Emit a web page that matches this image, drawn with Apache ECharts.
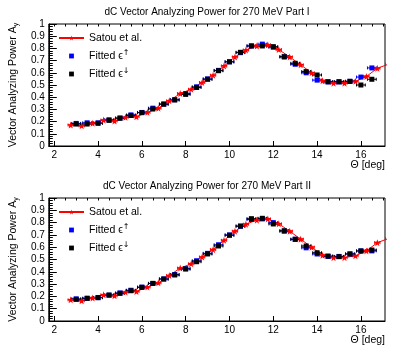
<!DOCTYPE html>
<html><head><meta charset="utf-8">
<script src="https://cdn.jsdelivr.net/npm/echarts@6/dist/echarts.min.js"></script>
<style>html,body{margin:0;padding:0;background:#fff}#c{width:400px;height:355px}</style>
</head><body><div id="c"></div>
<script>
// ---- data ----
const titles = ['dC Vector Analyzing Power for 270 MeV Part I', 'dC Vector Analyzing Power for 270 MeV Part II'];
const xTickValues = [2, 4, 6, 8, 10, 12, 14, 16];
const xMinorTickValues = [2, 2.5, 3, 3.5, 4, 4.5, 5, 5.5, 6, 6.5, 7, 7.5, 8, 8.5, 9, 9.5, 10, 10.5, 11, 11.5, 12, 12.5, 13, 13.5, 14, 14.5, 15, 15.5, 16, 16.5, 17];
const satouX = [2.75, 3.25, 3.75, 4.25, 4.75, 5.25, 5.75, 6.25, 6.75, 7.25, 7.75, 8.25, 8.75, 9.25, 9.75, 10.25, 10.75, 11.25, 11.75, 12.25, 12.75, 13.25, 13.75, 14.25, 14.75, 15.25, 15.75, 16.25, 16.75, 17.25];
const satouY = [0.172, 0.165, 0.186, 0.213, 0.205, 0.235, 0.24, 0.276, 0.31, 0.37, 0.43, 0.465, 0.52, 0.58, 0.656, 0.73, 0.787, 0.82, 0.83, 0.79, 0.73, 0.665, 0.6, 0.535, 0.515, 0.515, 0.53, 0.57, 0.637, 0.67];
const fitX = [3, 3.5, 4, 4.5, 5, 5.5, 6, 6.5, 7, 7.5, 8, 8.5, 9, 9.5, 10, 10.5, 11, 11.5, 12, 12.5, 13, 13.5, 14, 14.5, 15, 15.5, 16, 16.5];
const topBlue  = [0.185, 0.19, 0.19, 0.215, 0.23, 0.255, 0.275, 0.31, 0.345, 0.38, 0.43, 0.485, 0.55, 0.62, 0.69, 0.765, 0.82, 0.835, 0.81, 0.73, 0.67, 0.6, 0.54, 0.525, 0.525, 0.53, 0.565, 0.64];
const topBlack = [0.18, 0.18, 0.186, 0.21, 0.227, 0.25, 0.273, 0.303, 0.342, 0.377, 0.423, 0.48, 0.547, 0.617, 0.69, 0.768, 0.82, 0.82, 0.814, 0.732, 0.678, 0.61, 0.582, 0.527, 0.527, 0.53, 0.5, 0.547];
const botBlue  = [0.18, 0.185, 0.19, 0.21, 0.228, 0.25, 0.275, 0.305, 0.342, 0.378, 0.425, 0.49, 0.55, 0.62, 0.7, 0.77, 0.825, 0.83, 0.8, 0.73, 0.665, 0.595, 0.545, 0.525, 0.525, 0.545, 0.57, 0.57];
const botBlack = [0.176, 0.184, 0.19, 0.211, 0.225, 0.246, 0.274, 0.306, 0.341, 0.374, 0.423, 0.482, 0.545, 0.61, 0.697, 0.772, 0.832, 0.835, 0.789, 0.734, 0.664, 0.61, 0.555, 0.528, 0.523, 0.545, 0.569, 0.577];
const fitXErr = 0.2, fitYErr = 0.012, satouXErr = 0.12, satouYErr = 0.01;

const FONT = 'Liberation Sans, Arial, sans-serif';
const starPath = 'path://M0,-5L1.2,-1.6L4.8,-1.6L1.9,0.6L2.9,4L0,2L-2.9,4L-1.9,0.6L-4.8,-1.6L-1.2,-1.6Z';
const gridTops = [24, 198];
const gridH = [122, 123];

function pairs(xs, ys) { return xs.map((x, i) => [x, ys[i]]); }

function errSeries(idx, data, xe, ye, color) {
  return {
    type: 'custom', xAxisIndex: idx * 2, yAxisIndex: idx, clip: true, z: 2,
    data: data,
    renderItem: function (params, api) {
      const x = api.value(0), y = api.value(1);
      const l = api.coord([x - xe, y]), r = api.coord([x + xe, y]);
      const b = api.coord([x, y - ye]), t = api.coord([x, y + ye]);
      const st = { stroke: color, lineWidth: 1 };
      return { type: 'group', children: [
        { type: 'line', shape: { x1: l[0], y1: l[1], x2: r[0], y2: r[1] }, style: st },
        { type: 'line', shape: { x1: b[0], y1: b[1], x2: t[0], y2: t[1] }, style: st },
        { type: 'line', shape: { x1: l[0], y1: l[1] - 1.5, x2: l[0], y2: l[1] + 1.5 }, style: st },
        { type: 'line', shape: { x1: r[0], y1: r[1] - 1.5, x2: r[0], y2: r[1] + 1.5 }, style: st }
      ] };
    }
  };
}

const grids = [], xAxes = [], yAxes = [], series = [], legends = [], titleArr = [], graphics = [];
[0, 1].forEach(function (i) {
  grids.push({ left: 45, top: gridTops[i], width: 340, height: gridH[i], show: true, borderColor: '#000', borderWidth: 1, backgroundColor: 'transparent' });
  xAxes.push({
    type: 'value', gridIndex: i, min: 1.75, max: 17.1,
    axisLine: { show: true, lineStyle: { color: '#000' } },
    axisTick: { show: true, inside: true, length: 5, customValues: xTickValues, lineStyle: { color: '#000' } },
    axisLabel: { show: true, customValues: xTickValues, margin: 4, fontSize: 10, color: '#000', fontFamily: FONT },
    splitLine: { show: false }
  });
  xAxes.push({
    type: 'value', gridIndex: i, min: 1.75, max: 17.1,
    axisLine: { show: false },
    axisTick: { show: true, inside: true, length: 2.5, customValues: xMinorTickValues, lineStyle: { color: '#000' } },
    axisLabel: { show: false },
    splitLine: { show: false }
  });
  yAxes.push({
    type: 'value', gridIndex: i, min: 0, max: 1, interval: 0.1,
    axisLine: { show: true, lineStyle: { color: '#000' } },
    axisTick: { show: true, inside: true, length: 8, lineStyle: { color: '#000' } },
    minorTick: { show: true, splitNumber: 5, length: 4, lineStyle: { color: '#000' } },
    axisLabel: { margin: 4, fontSize: 10, color: '#000', fontFamily: FONT },
    splitLine: { show: false },
    name: '{n|Vector Analyzing Power A}{s|y}', nameLocation: 'middle', nameGap: 28,
    nameTextStyle: { fontSize: 10, color: '#000', fontFamily: FONT,
      rich: { n: { fontSize: 10.5, color: '#000', fontFamily: FONT }, s: { fontSize: 7, color: '#000', fontFamily: FONT, verticalAlign: 'bottom', padding: [6, 0, 0, 0] } } }
  });
  titleArr.push({ text: titles[i], left: 207, textAlign: 'center', top: gridTops[i] - 17, padding: 0,
    textStyle: { fontSize: 10, fontWeight: 'normal', color: '#000', fontFamily: FONT } });
  graphics.push({ type: 'text', right: 15, top: gridTops[i] + gridH[i] + 14,
    style: { text: 'Θ [deg]', fontSize: 10.5, fill: '#000', font: '10.5px ' + FONT } });

  const blue = i === 0 ? topBlue : botBlue;
  const black = i === 0 ? topBlack : botBlack;
  series.push(errSeries(i, pairs(satouX, satouY), satouXErr, satouYErr, '#ff0000'));
  series.push({ name: 'Satou et al.', type: 'line', xAxisIndex: i * 2, yAxisIndex: i, data: pairs(satouX, satouY),
    symbol: starPath, symbolSize: 7, showSymbol: true, clip: true, z: 3,
    lineStyle: { color: '#ff0000', width: 1 }, itemStyle: { color: '#ff0000' } });
  series.push(errSeries(i, pairs(fitX, blue), fitXErr, fitYErr, '#0000ff'));
  series.push({ name: 'Fitted ϵ↑', type: 'line', xAxisIndex: i * 2, yAxisIndex: i, data: pairs(fitX, blue),
    symbol: 'rect', symbolSize: 5, showSymbol: true, z: 4,
    lineStyle: { opacity: 0, width: 0 }, itemStyle: { color: '#0000ff' } });
  series.push(errSeries(i, pairs(fitX, black), fitXErr, fitYErr, '#000000'));
  series.push({ name: 'Fitted ϵ↓', type: 'line', xAxisIndex: i * 2, yAxisIndex: i, data: pairs(fitX, black),
    symbol: 'rect', symbolSize: 5, showSymbol: true, z: 5,
    lineStyle: { opacity: 0, width: 0 }, itemStyle: { color: '#000000' } });

  legends.push({
    orient: 'vertical', left: 58, top: gridTops[i] + 7, padding: 0, itemWidth: 25, itemHeight: 6, itemGap: 4,
    selectedMode: false,
    data: ['Satou et al.', 'Fitted ϵ↑', 'Fitted ϵ↓'],
    formatter: function (name) {
      if (name === 'Fitted ϵ↑') return '{t|Fitted ϵ}{s|↑}';
      if (name === 'Fitted ϵ↓') return '{t|Fitted ϵ}{s|↓}';
      return '{t|' + name + '}';
    },
    textStyle: { fontSize: 10.5, color: '#000', fontFamily: FONT, lineHeight: 14,
      rich: { t: { fontSize: 10.5, color: '#000', fontFamily: FONT, lineHeight: 14 }, s: { fontSize: 8, color: '#000', fontFamily: 'DejaVu Sans', lineHeight: 14, verticalAlign: 'top' } } }
  });
});

const chart = echarts.init(document.getElementById('c'), null, { renderer: 'canvas' });
chart.setOption({
  animation: false,
  backgroundColor: '#fff',
  title: titleArr,
  grid: grids,
  xAxis: xAxes,
  yAxis: yAxes,
  legend: legends,
  series: series,
  graphic: graphics
});
</script></body></html>
